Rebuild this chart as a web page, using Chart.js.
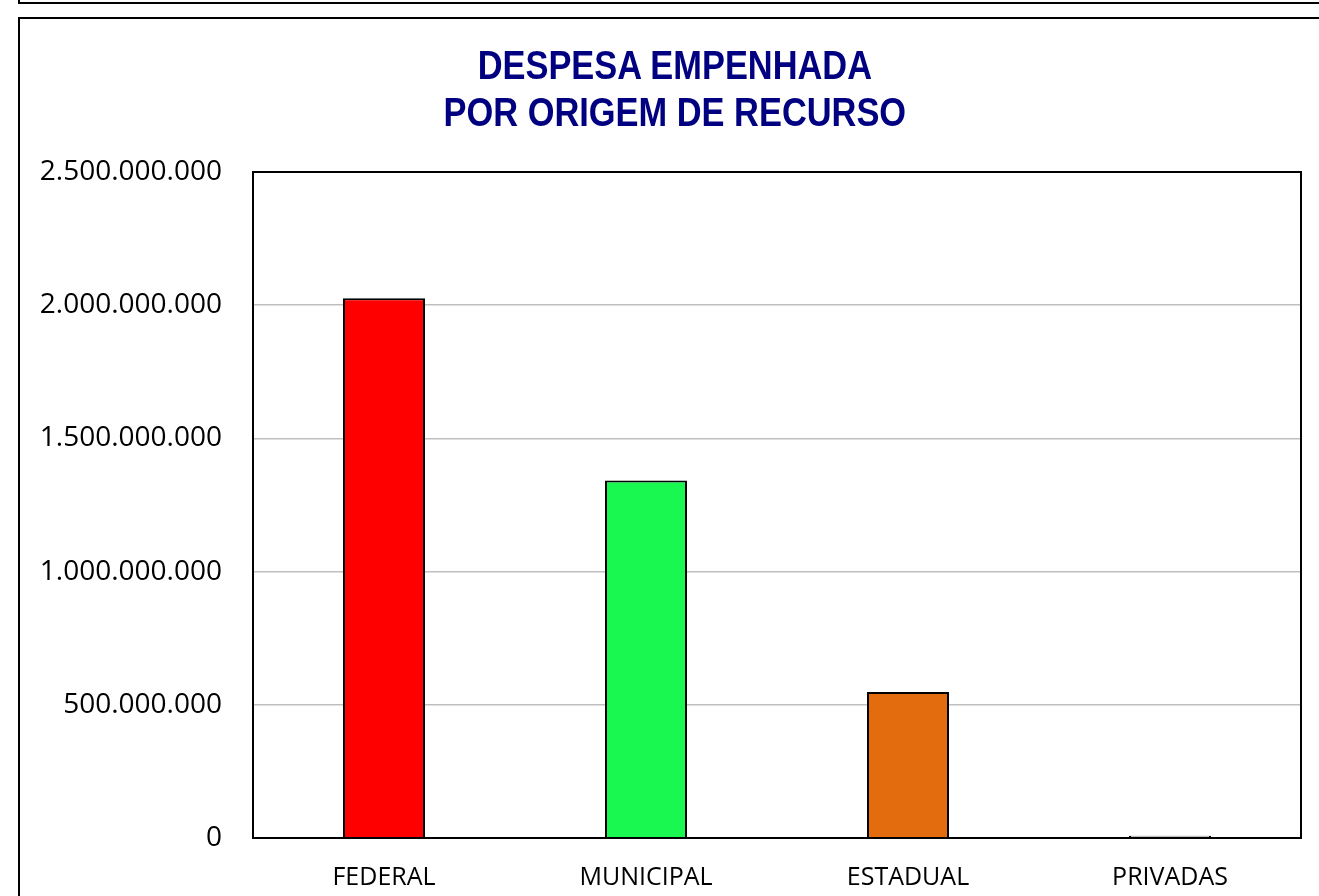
<!DOCTYPE html>
<html>
<head>
<meta charset="utf-8">
<script src="https://cdn.jsdelivr.net/npm/chart.js@4"></script>
<style>
  html, body { margin: 0; padding: 0; background: #fff; overflow: hidden; }
  body { width: 1319px; height: 896px; position: relative; }
  .frame-top {
    position: absolute; left: 18px; top: -8px; width: 1320px; height: 12px;
    border: 2px solid #000; box-sizing: border-box;
  }
  .frame {
    position: absolute; left: 18px; top: 17px; width: 1320px; height: 900px;
    border: 2px solid #000; box-sizing: border-box;
  }
  #wrap { position: absolute; left: 20px; top: 18px; width: 1310px; height: 878px; }
  .titulo {
    position: absolute; left: 20px; top: 42px; width: 1310px; text-align: center;
    font-family: "Liberation Sans", Arial, sans-serif; font-weight: bold; font-size: 40px;
    line-height: 47px; color: #000080; transform: scaleX(0.86); transform-origin: 654px 0;
    z-index: 2;
  }
</style>
</head>
<body>
<div class="frame-top"></div>
<div class="frame"></div>
<div id="wrap"><canvas id="myChart"></canvas></div>
<div class="titulo">DESPESA EMPENHADA<br>POR ORIGEM DE RECURSO</div>
<script>
// dados
const categorias = ['FEDERAL', 'MUNICIPAL', 'ESTADUAL', 'PRIVADAS'];
const valores = [2026000000, 1342000000, 548000000, 8000000];
const cores = ['#FF0000', '#19F751', '#E36C0F', '#FFFFFF'];
const yTicks = [0, 500000000, 1000000000, 1500000000, 2000000000, 2500000000];

// borda da área de plotagem
const plotBorder = {
  id: 'plotBorder',
  afterDraw(chart) {
    const { ctx, chartArea: a } = chart;
    ctx.save();
    ctx.strokeStyle = '#000';
    ctx.lineWidth = 2;
    ctx.strokeRect(a.left, a.top, a.right - a.left, a.bottom - a.top);
    ctx.restore();
  }
};

const ctx = document.getElementById('myChart');
new Chart(ctx, {
  type: 'bar',
  data: {
    labels: categorias,
    datasets: [{
      data: valores,
      backgroundColor: cores,
      borderColor: '#000',
      borderWidth: 2,
      barPercentage: 0.313,
      categoryPercentage: 1
    }]
  },
  options: {
    responsive: true,
    maintainAspectRatio: false,
    animation: false,
    layout: { padding: { left: 0, right: 29, top: 154, bottom: 0 } },
    plugins: {
      legend: { display: false },
      tooltip: { enabled: false },
      title: { display: false }
    },
    scales: {
      x: {
        grid: { display: false, drawTicks: false },
        border: { display: false },
        ticks: {
          color: '#000',
          padding: 25,
          font: { family: '"Open Sans"', size: 25 }
        },
        afterFit: s => { s.height = 58; }
      },
      y: {
        min: 0,
        max: 2500000000,
        afterBuildTicks: s => { s.ticks = yTicks.map(v => ({ value: v })); },
        grid: { color: '#BFBFBF', lineWidth: 1.5, drawTicks: false },
        border: { display: false },
        ticks: {
          color: '#000',
          padding: 31,
          font: { family: '"Open Sans"', size: 28 },
          callback: v => v.toLocaleString('pt-BR')
        },
        afterFit: s => { s.width = 233; }
      }
    }
  },
  plugins: [plotBorder]
});
</script>
</body>
</html>
